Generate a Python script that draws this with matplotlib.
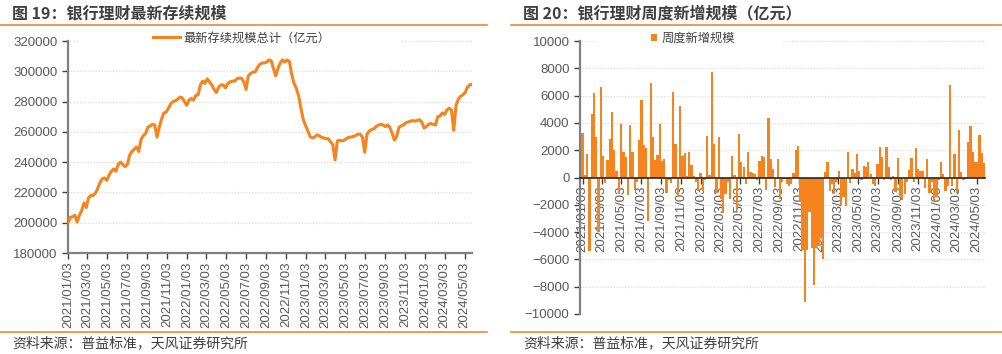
import numpy as np
import pandas as pd
import matplotlib
matplotlib.use('Agg')
import matplotlib.pyplot as plt
from matplotlib.lines import Line2D
from matplotlib.patches import Rectangle

plt.rcParams['font.family'] = ['Liberation Sans', 'Noto Sans CJK SC', 'DejaVu Sans']

# weekly dates (Sunday), 2021/01/03 .. 2024/05/26
weeks = pd.date_range('2021-01-03', periods=178, freq='7D')

# 最新存续规模总计 (亿元)
stock = [
    200000, 203500, 204000, 205000, 200500, 205000, 208000, 213000, 210000, 216500,
    218000, 218000, 219500, 222500, 226500, 229000, 229500, 228000, 231500, 234000,
    235500, 234000, 238500, 240000, 238500, 237000, 238500, 244500, 247000, 248500,
    250000, 247000, 255000, 257500, 259000, 263000, 264000, 265000, 264500, 256500,
    263000, 268500, 272500, 273000, 275500, 278500, 280000, 280500, 281500, 283000,
    282500, 280000, 277500, 281000, 282000, 281000, 284000, 284500, 291000, 293500,
    292000, 295000, 293000, 291000, 288000, 286000, 289500, 291000, 291000, 289000,
    292000, 293000, 293500, 293500, 295000, 295500, 295500, 293000, 288000, 297000,
    298500, 299500, 299500, 302500, 304500, 305500, 305500, 306000, 307500, 307000,
    302000, 297000, 302000, 305500, 307500, 306000, 307500, 306500, 298000, 292000,
    289000, 284000, 276000, 268500, 264500, 261000, 257000, 256000, 256500, 258000,
    257500, 256500, 256000, 255500, 255500, 253500, 251500, 241500, 254000, 254500,
    254000, 254500, 255500, 256500, 256500, 257000, 257500, 258500, 258500, 256500,
    246500, 258500, 260500, 261500, 262000, 263500, 264500, 265000, 264500, 263500,
    264500, 263000, 259000, 254500, 257000, 263000, 264000, 264500, 266000, 266500,
    267000, 267500, 267000, 267500, 268000, 266500, 262500, 263500, 265000, 265500,
    265000, 264500, 270000, 270500, 272500, 271500, 274500, 275500, 274500, 261000,
    277500, 281500, 283500, 284500, 286000, 289500, 291000, 291500,
]

# 周度新增规模 (亿元)
weekly = [
    3250, 200, 1700, -5400, 4650, 6200, 3000, -4000, 6650, 1600,
    -400, 1300, 2800, 4800, 2000, 500, -1200, 3950, 1850, 1500,
    -1300, 3850, 1850, -900, -300, 2750, 5700, 2400, 2150, -3200,
    6900, 3000, 1250, 1650, 3950, 1200, 1350, -1100, -200, -400,
    6300, 2450, -1400, 5250, 1550, 1800, 100, 1850, 950, 100,
    -300, -1000, 350, -1000, -200, 3050, 200, 7700, 2450, -1100,
    3000, -1600, -2600, -1200, -300, -1600, 1600, 200, -2400, 3200,
    1100, 800, -500, 1900, 400, 300, 250, -200, 1200, 1550,
    1500, -900, 4350, 1350, 650, -700, 1350, -1600, -300, -100,
    -500, -600, -500, 300, 2050, 2300, -1800, -5300, -9100, -5300,
    -2500, -5200, -7850, -5200, -5000, -4400, -6000, 400, 1150, -1000,
    -500, -1200, -300, 450, -2000, -1400, -2100, 1850, -400, 600,
    300, 1700, 450, -200, 850, 750, 1100, 250, -500, -650,
    1000, 2200, 1500, -200, 2200, 750, -150, 100, -1050, 1450,
    -1350, -1650, -1200, -300, 550, 1400, -350, 2150, 650, 500,
    500, -800, 1350, -1150, -300, -1750, -1400, -200, 1100, 250,
    -1000, -650, 6800, -600, 1700, -1150, 3500, 400, -200, -100,
    2600, 3800, 1850, 1150, 1150, 3100, 1800, 1050,
]

tick_dates = pd.date_range('2021-01-01', '2024-05-01', freq='2MS') + pd.Timedelta(days=2)
tick_labels = [d.strftime('%Y/%m/%d') for d in tick_dates]

W, H = 1002, 354
ORANGE = '#F5841F'
RULE = '#E98A3C'
GREY = '#595959'
TXT = '#3f3f3f'
CJK = ['Noto Sans CJK SC', 'DejaVu Sans']


def fx(px):
    return px / W


def fy(py):
    return 1 - py / H


def style_axis(ax):
    ax.spines['top'].set_visible(False)
    ax.spines['right'].set_visible(False)
    ax.spines['left'].set_color('#808080')
    ax.spines['left'].set_linewidth(1.6)
    ax.tick_params(axis='both', direction='out', length=4, width=1,
                   color='#404040', labelsize=9.5, labelcolor=GREY)
    ax.set_xticks(tick_dates)
    ax.set_xticklabels(tick_labels, rotation=90)
    ax.tick_params(axis='x', pad=2)


fig = plt.figure(figsize=(W / 100, H / 100), dpi=100)

# ---- left: 最新存续规模 ----
ax1 = fig.add_axes([fx(68), fy(253), 404 / W, 212 / H])
ax1.plot(weeks, stock, color=ORANGE, lw=2.2, solid_joinstyle='round',
         label='最新存续规模总计（亿元）', zorder=3)
ax1.set_ylim(180000, 320000)
ax1.set_yticks(range(180000, 320001, 20000))
ax1.set_xlim(weeks[0], weeks[-1])
for v in range(200000, 320001, 20000):
    ax1.axhline(v, color='#d9d9d9', lw=0.8, ls=(0, (1, 1.5)), zorder=0.5)
style_axis(ax1)
ax1.spines['bottom'].set_color('#808080')
ax1.spines['bottom'].set_linewidth(1.6)
ax1.add_patch(Rectangle((0.025, 0.981), 0.80, 0.06, transform=ax1.transAxes,
                        facecolor='white', edgecolor='none', clip_on=False, zorder=1))
ax1.legend(loc='center', bbox_to_anchor=(0.43, 1.014), frameon=False,
           prop={'family': CJK, 'size': 8.8}, handlelength=2.2, handletextpad=0.3,
           labelcolor=TXT)

# ---- right: 周度新增规模 ----
ax2 = fig.add_axes([fx(580), fy(314), 405 / W, 273 / H])
ax2.bar(weeks, weekly, width=6.9, color=ORANGE, linewidth=0,
        label='周度新增规模', zorder=2)
ax2.set_ylim(-10000, 10000)
ax2.set_yticks(range(-10000, 10001, 2000))
ax2.set_xlim(weeks[0] - pd.Timedelta(days=8), weeks[-1] + pd.Timedelta(days=3))
for v in range(-10000, 10001, 2000):
    if v != 0:
        ax2.axhline(v, color='#d9d9d9', lw=0.8, ls=(0, (1, 1.5)), zorder=0.5)
ax2.spines['bottom'].set_position(('data', 0))
style_axis(ax2)
ax2.spines['bottom'].set_color('#262626')
ax2.spines['bottom'].set_linewidth(1.2)
ax2.add_patch(Rectangle((0.042, 0.985), 0.46, 0.045, transform=ax2.transAxes,
                        facecolor='white', edgecolor='none', clip_on=False, zorder=1))
ax2.legend(loc='center', bbox_to_anchor=(0.279, 1.011), frameon=False,
           prop={'family': CJK, 'size': 8.8}, handlelength=0.5, handleheight=0.5,
           handletextpad=0.3, labelcolor=TXT)

# ---- titles, rules, sources ----
for x0, x1, xt, title in [(0, 487, 12, '图 19：银行理财最新存续规模'),
                          (511, 1002, 523, '图 20：银行理财周度新增规模（亿元）')]:
    fig.text(fx(xt), fy(13), title, fontsize=11.5, fontweight='bold', color=TXT,
             va='center', ha='left', family=CJK)
    fig.add_artist(Line2D([fx(x0), fx(x1)], [fy(25), fy(25)], color=RULE, lw=1.2))
    fig.add_artist(Line2D([fx(x0), fx(x1)], [fy(331.5), fy(331.5)], color=RULE, lw=1.2))
    fig.text(fx(xt), fy(343), '资料来源：普益标准，天风证券研究所', fontsize=10,
             color=TXT, va='center', ha='left', family=CJK)

fig.savefig('out.png', dpi=100, facecolor='white')
